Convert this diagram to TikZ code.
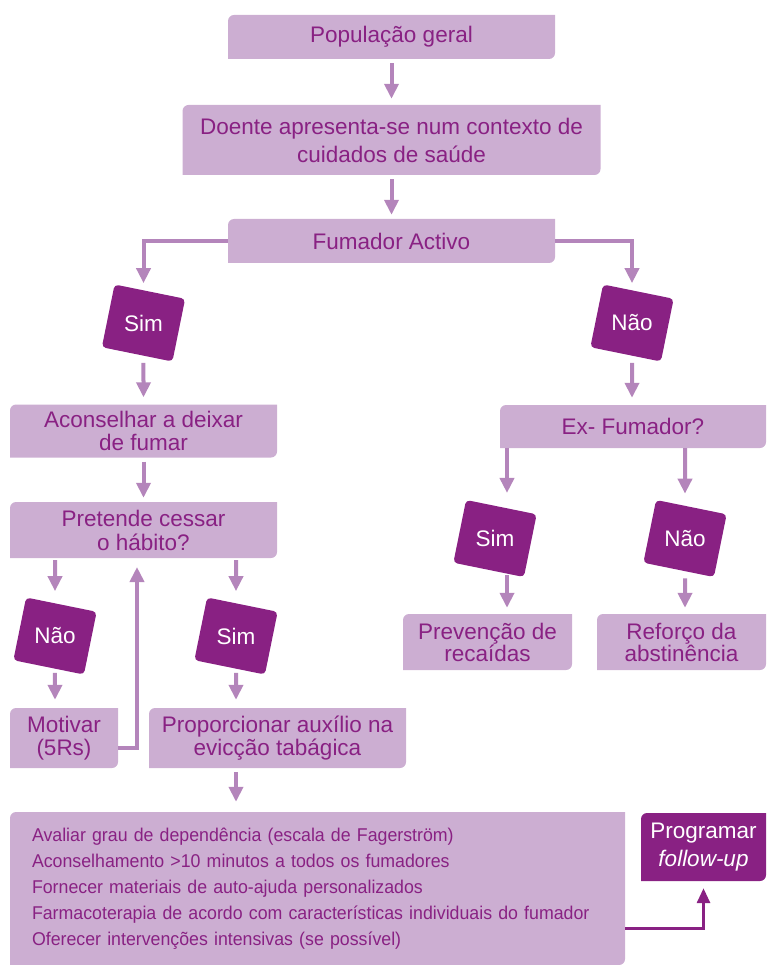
\documentclass[tikz,border=0pt]{standalone}
\usepackage{fontspec}
\setmainfont{Liberation Sans}
\newfontfamily\narrowfont{Liberation Sans}[FakeStretch=0.96]
\usetikzlibrary{positioning,arrows.meta,calc}
\definecolor{boxfill}{RGB}{204,174,210}
\definecolor{plum}{RGB}{137,33,131}
\definecolor{arrowcol}{RGB}{180,133,187}

\begin{document}
\begin{tikzpicture}[x=1pt,y=-1pt,
  leaf/.style={path picture={\fill[#1] (path picture bounding box.south west) [rounded corners=6pt] -- (path picture bounding box.north west) [sharp corners] -- (path picture bounding box.north east) [rounded corners=6pt] -- (path picture bounding box.south east) [sharp corners] -- cycle;}},
  block/.style={leaf=boxfill, text=plum, align=center, inner sep=0pt, font=\fontsize{22.5pt}{24pt}\selectfont},
  answer/.style={fill=plum, rounded corners=4pt, minimum width=72pt, minimum height=64pt, inner sep=0pt, rotate=-11.5, text=white, font=\fontsize{22.5pt}{24pt}\selectfont},
  arr/.style={draw=arrowcol, line width=4pt, -{Triangle[width=14pt,length=15pt]}},
  darr/.style={draw=plum, line width=3pt, -{Triangle[width=13pt,length=15pt]}}]
\useasboundingbox (0,0) rectangle (766,965);

% main column
\node[block, minimum width=327pt, minimum height=44pt] (pop) at (391.5,37) {População geral};
\node[block, minimum width=418pt, minimum height=70pt, font=\fontsize{22.5pt}{28pt}\selectfont] (doente) at (391.5,140) {Doente apresenta-se num contexto de\\cuidados de saúde};
\node[block, minimum width=327pt, minimum height=44pt] (fumador) at (391.5,241) {Fumador Activo};
\node[answer] (s1) at (143.5,323) {\rotatebox{11.5}{Sim}};
\node[answer] (n1) at (632,323) {\rotatebox{11.5}{Não}};

% left branch
\node[block, minimum width=267pt, minimum height=53pt, font=\fontsize{22.5pt}{23pt}\selectfont] (acons) at (143.5,431) {Aconselhar a deixar\\de fumar};
\node[block, minimum width=267pt, minimum height=56pt] (pret) at (143.5,530) {Pretende cessar\\o hábito?};
\node[answer] (n2) at (55,636) {\rotatebox{11.5}{Não}};
\node[answer] (s2) at (236,636) {\rotatebox{11.5}{Sim}};
\node[block, minimum width=108pt, minimum height=60pt, font=\fontsize{22.5pt}{23pt}\selectfont] (motiv) at (64,738) {Motivar\\(5Rs)};
\node[block, minimum width=257pt, minimum height=60pt, font=\fontsize{22.5pt}{23pt}\selectfont] (aux) at (277.5,738) {Proporcionar auxílio na\\evicção tabágica};
\coordinate (back) at (137,558);

% right branch
\node[block, minimum width=266pt, minimum height=43pt] (exfum) at (633,426.5) {Ex- Fumador?};
\node[answer] (s3) at (495,538.5) {\rotatebox{11.5}{Sim}};
\node[answer] (n3) at (685,538.5) {\rotatebox{11.5}{Não}};
\coordinate (s3x) at ([xshift=12pt]s3.center);
\node[block, minimum width=169pt, minimum height=56pt, font=\fontsize{22.5pt}{22pt}\selectfont] (prev) at (487.5,642) {Prevenção de\\recaídas};
\node[block, minimum width=169pt, minimum height=56pt, font=\fontsize{22.5pt}{22pt}\selectfont] (refor) at (681.5,642) {Reforço da\\abstinência};

% bottom
\node[block, align=left, text width=571pt, inner xsep=22pt, minimum height=153pt, font=\narrowfont\fontsize{18.5pt}{26pt}\selectfont] (acts) at (317.5,888.5) {Avaliar grau de dependência (escala de Fagerström)\\
Aconselhamento >10 minutos a todos os fumadores\\
Fornecer materiais de auto-ajuda personalizados\\
Farmacoterapia de acordo com características individuais do fumador\\
Oferecer intervenções intensivas (se possível)};
\node[leaf=plum, text=white, align=center, inner sep=0pt, minimum width=125pt, minimum height=68pt, font=\fontsize{22.5pt}{28pt}\selectfont] (prog) at (703.5,847) {Programar\\\textit{follow-up}};

% connectors
\draw[arr, shorten <=4pt, shorten >=6pt] (pop) -- (doente);
\draw[arr, shorten <=4pt, shorten >=4pt] (doente) -- (fumador);
\draw[arr, shorten >=7pt] (fumador.west) -| (s1);
\draw[arr, shorten >=7pt] (fumador.east) -| (n1);
\draw[arr, shorten <=7pt, shorten >=7pt] (s1) -- (acons);
\draw[arr, shorten <=4pt, shorten >=4pt] (acons) -- (pret);
\draw[arr, shorten <=2pt, shorten >=12pt] (pret.south -| n2) -- (n2);
\draw[arr, shorten <=2pt, shorten >=12pt] (pret.south -| s2) -- (s2);
\draw[arr, shorten <=4pt, shorten >=8pt] (n2) -- (n2 |- motiv.north);
\draw[arr, shorten <=4pt, shorten >=8pt] (s2) -- (s2 |- aux.north);
\draw[arr, shorten >=9pt] ([yshift=-10pt]motiv.east) -| (back);
\draw[arr, shorten <=4pt, shorten >=10pt] (s2 |- aux.south) -- (s2 |- acts.north);
\draw[arr, shorten <=7pt, shorten >=7pt] (n1) -- (n1 |- exfum.north);
\draw[arr, shorten >=14pt] (s3x |- exfum.south) -- (s3x |- s3.north);
\draw[arr, shorten >=12pt] (exfum.south -| n3) -- (n3);
\draw[arr, shorten <=5pt, shorten >=6pt] (s3x |- s3.south) -- (s3x |- prev.north);
\draw[arr, shorten <=7pt, shorten >=6pt] (n3) -- (n3 |- refor.north);
\draw[darr, shorten >=7pt] ([yshift=-40pt]acts.east) -| (prog);
\end{tikzpicture}
\end{document}
